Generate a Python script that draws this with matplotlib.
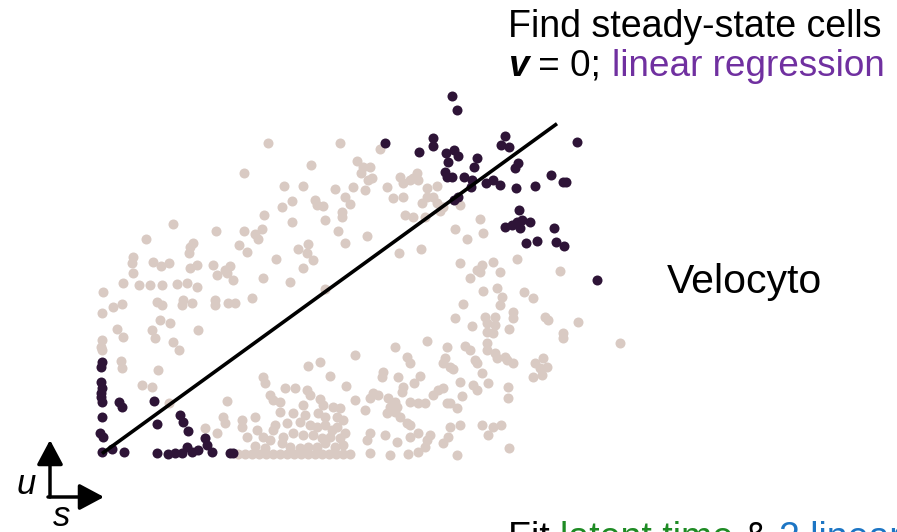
import numpy as np
import matplotlib.pyplot as plt

plt.rcParams['font.family'] = ['Liberation Sans', 'DejaVu Sans']

# spliced (s) / unspliced (u) counts for one gene, arbitrary units
s_cells = [168, 240, 280, 144, 211, 164, 73, 116, 144, 155, 162, 158, 139, 147, 46, 93, 90, 89,
           33, 32, 53, 61, 69, 90, 97, 113, 130, 125, 33,
           257, 263, 270, 261, 272, 268, 184, 203, 235, 253, 265, 287, 300, 303, 310, 317, 313, 318,
           327, 337, 182, 192, 215, 217, 223, 245, 250, 293, 303, 327, 333, 322, 337, 343, 242, 242,
           225, 192, 305, 313, 325, 340, 238, 267, 245, 198, 208, 207, 213, 176, 203, 299, 321,
           360, 380, 355, 383, 367, 417, 393, 382, 377, 360, 400, 460,
           23, 39, 50, 62, 77, 87, 97, 117, 127, 133, 163, 3, 13, 22, 2, 57, 62, 83, 82, 92, 115, 115,
           128, 135, 152, 17, 23, 60, 70, 52, 55, 98, 73, 79, 2, 1, 2, 21, 22, 58, 42, 52, 69, 123,
           127, 105, 117, 125, 142, 142, 155, 157, 163, 147, 163, 165, 155, 165,
           190, 225, 255, 295, 327, 347, 307, 310, 208, 220, 230, 283, 282, 298, 320, 314, 343, 345,
           246, 185, 195, 207, 210, 170, 173, 180, 203, 220, 223, 233, 240, 255, 273, 278, 270, 288,
           295, 290, 297, 303, 302, 310, 318, 325, 338, 343, 333, 347, 265, 287, 295, 300, 307, 310,
           180, 193, 205, 218, 225, 237, 243, 175, 187, 200, 210, 217, 225, 232, 237, 173, 183, 193,
           203, 213, 222, 230, 240, 245, 170, 182, 190, 200, 208, 217, 225, 235, 243, 270, 267, 285,
           297, 310, 318, 330, 327, 270, 290, 308, 318, 325, 343, 348,
           370, 380, 383, 397, 402, 400, 424, 433, 363, 355, 372, 385, 395, 387, 395, 387, 393, 413,
           413, 409, 445, 448, 478, 463, 463, 520, 365, 370, 387, 387, 395, 397, 405, 407, 413, 375,
           377, 382, 350, 353, 435, 443, 447, 440, 433, 442, 360, 373, 377, 388, 408, 408, 362, 350,
           357, 350, 360, 382, 393, 401, 388, 409, 357,
           138, 145, 152, 159, 166, 173, 180, 187, 194, 201, 208, 215, 222, 229, 236, 243, 250]
u_cells = [312, 312, 306, 282, 290, 240, 231, 224, 224, 221, 226, 216, 210, 203, 216, 212, 208, 202,
           198, 192, 193, 189, 192, 187, 190, 190, 189, 185, 182,
           294, 288, 288, 282, 277, 275, 269, 269, 266, 268, 265, 268, 278, 272, 275, 282, 277, 275,
           267, 269, 248, 254, 255, 250, 249, 258, 251, 257, 258, 258, 258, 252, 252, 248, 243, 238,
           235, 233, 240, 238, 238, 244, 224, 219, 212, 206, 211, 202, 195, 196, 187, 202, 206,
           250, 236, 226, 222, 216, 196, 193, 190, 185, 192, 183, 184,
           172, 170, 170, 170, 171, 172, 168, 180, 182, 175, 177, 163, 148, 151, 142, 153, 150, 155,
           150, 152, 155, 150, 152, 152, 157, 126, 118, 135, 132, 125, 117, 125, 113, 105, 115, 108,
           105, 94, 87, 85, 70, 68, 52, 38, 54, 27, 22, 32, 35, 28, 38, 25, 18, 18, 78, 72, 9, 7,
           173, 166, 100, 108, 114, 108, 98, 92, 89, 93, 79, 83, 78, 78, 79, 72, 92, 97,
           69, 67, 67, 65, 60, 60, 55, 53, 50, 56, 50, 48, 47, 55, 62, 60, 57, 57,
           53, 48, 48, 68, 63, 53, 52, 52, 65, 67, 60, 52, 45, 42, 43, 38, 32, 30,
           43, 42, 40, 42, 38, 38, 35, 30, 32, 33, 30, 28, 30, 25, 28, 25, 18, 22,
           20, 20, 17, 18, 17, 22, 15, 12, 8, 7, 8, 8, 12, 8, 10, 22, 15, 20,
           13, 18, 22, 20, 15, 2, 0, 1, 3, 8, 12, 18,
           177, 183, 164, 167, 158, 150, 163, 157, 151, 137, 129, 138, 138, 132, 130, 123, 122, 143,
           137, 126, 138, 135, 133, 122, 117, 112, 109, 105, 112, 105, 102, 97, 98, 95, 92, 95,
           92, 82, 88, 86, 92, 97, 88, 87, 78, 80, 73, 70, 65, 72, 68, 57, 59, 52,
           47, 28, 30, 30, 28, 30, 20, 7, 0,
           1, 1, 1, 1, 1, 1, 1, 1, 1, 1, 1, 1, 1, 1, 1, 1, 1]

# cells picked as steady states (extreme quantiles)
s_steady = [352, 357, 285, 319, 333, 333, 346, 348, 345, 347, 352, 354, 358, 405, 401, 409, 477,
            377, 374, 418, 415, 364, 372, 371, 386, 393, 400, 416, 435, 451, 463, 466, 358, 354,
            419, 405, 412, 417, 420, 430, 422, 454, 426, 437, 456, 464, 497,
            2, 1, 1, 2, 1, 1, 2, 19, 22, 54, 2, 80, 83, 57, 88, 0, 3, 2, 12, 24, 57, 68, 75, 82,
            87, 92, 98, 105, 107, 112, 130, 133]
u_steady = [359, 345, 312, 303, 317, 309, 302, 293, 283, 278, 278, 305, 299, 319, 310, 308, 313,
            297, 288, 292, 287, 278, 275, 268, 272, 275, 270, 267, 269, 280, 273, 273, 258, 255,
            245, 228, 230, 233, 227, 233, 235, 227, 212, 214, 213, 209, 175,
            93, 88, 73, 67, 62, 58, 53, 53, 48, 54, 38, 40, 33, 31, 24, 22, 18, 3, 6, 3, 2, 1, 2, 2,
            8, 3, 5, 17, 10, 3, 2, 2]

# fitted steady-state ratio u = gamma * s
gamma = 0.725
s_fit = [2, 457]

fig = plt.figure(figsize=(8.97, 5.32), dpi=100, facecolor='white')
ax = fig.add_axes([0, 0, 1, 1])
ax.set_xlim(-100, 797)
ax.set_ylim(-77, 455)
ax.axis('off')

ax.scatter(s_cells, u_cells, s=52, color='#D9CAC3', linewidths=0, zorder=2)
ax.scatter(s_steady, u_steady, s=52, color='#2E1437', linewidths=0, zorder=3)
s_line = np.array(s_fit, dtype=float)
ax.plot(s_line, gamma * s_line, color='black', lw=2.6, solid_capstyle='butt', zorder=4)


def colored_line(pieces, x, y, size):
    """Write text pieces one after another on a shared baseline (figure coords)."""
    renderer = fig.canvas.get_renderer()
    for txt, kw in pieces:
        t = fig.text(x, y, txt, fontsize=size, va='baseline', ha='left', **kw)
        bb = t.get_window_extent(renderer)
        x += bb.width / fig.bbox.width


fs = 27
colored_line([('Find steady-state cells', dict(color='black'))], 508 / 897, 1 - 37 / 532, fs)
colored_line([('v', dict(color='black', fontweight='bold', style='italic')),
              (' = 0; ', dict(color='black')),
              ('linear regression', dict(color='#7030A0'))], 508 / 897, 1 - 76 / 532, 26.6)
fig.text(667 / 897, 1 - 293 / 532, 'Velocyto', fontsize=29.5, color='black', va='baseline')
colored_line([('Fit ', dict(color='black')),
              ('latent time', dict(color='#1E8B24')),
              (' & ', dict(color='black')),
              ('2 linear regressions', dict(color='#1C75C4'))], 508 / 897, 1 - 549 / 532, fs)

# u / s orientation arrows
arrow = dict(arrowstyle='-|>,head_length=0.75,head_width=0.4', mutation_scale=20,
             lw=2.5, color='black', shrinkA=0, shrinkB=0)
ax.annotate('', xy=(50, 532 - 440), xytext=(50, 532 - 497), xycoords='figure pixels',
            textcoords='figure pixels', arrowprops=arrow)
ax.annotate('', xy=(104, 532 - 497), xytext=(48, 532 - 497), xycoords='figure pixels',
            textcoords='figure pixels', arrowprops=arrow)
fig.text(26 / 897, 1 - 484 / 532, 'u', fontsize=25, style='italic', ha='center', va='center')
fig.text(62 / 897, 1 - 516 / 532, 's', fontsize=25, style='italic', ha='center', va='center')

fig.savefig('out.png', dpi=100)
